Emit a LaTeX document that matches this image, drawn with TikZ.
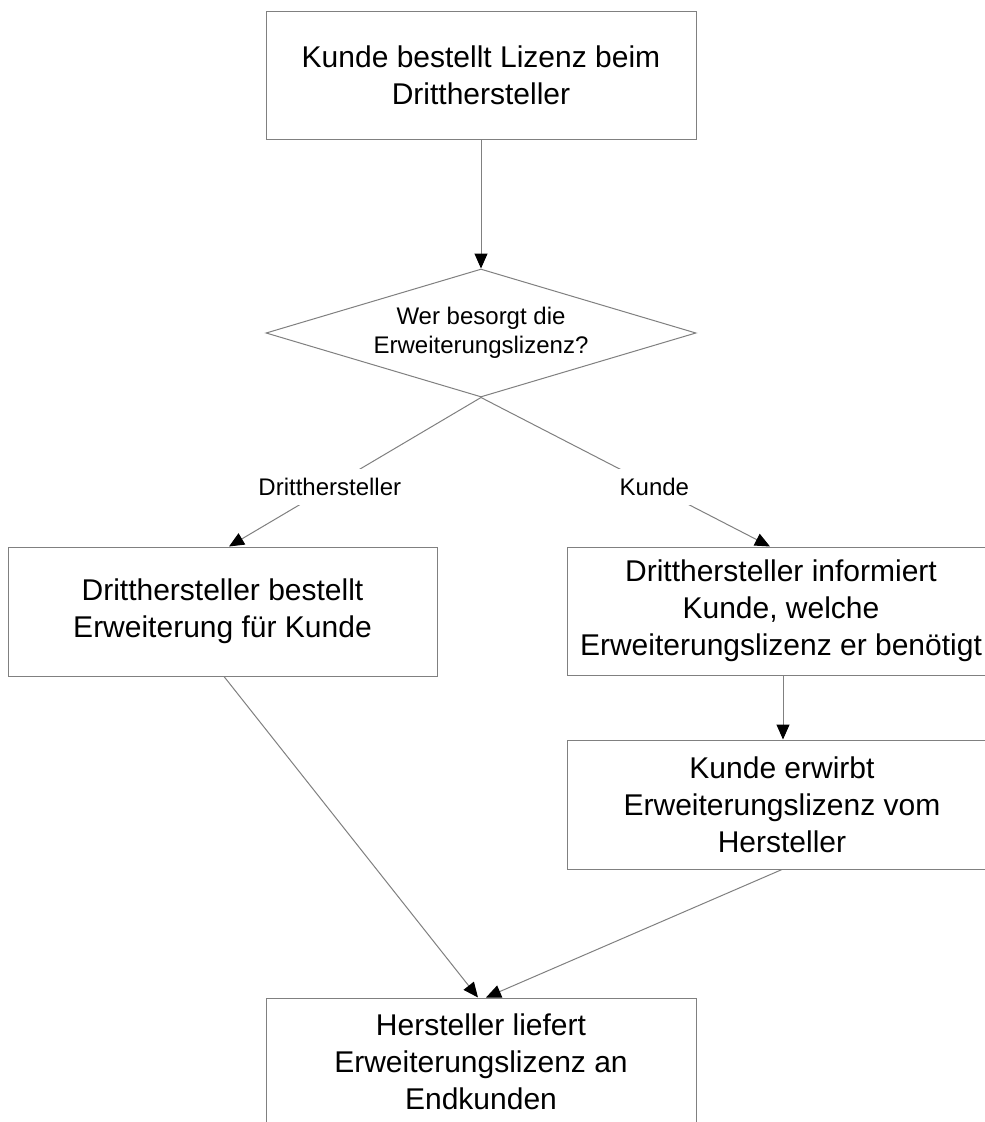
\documentclass[tikz,border=0pt]{standalone}
\usepackage{fontspec}
\setmainfont{Liberation Sans}
\usetikzlibrary{shapes.geometric,arrows.meta}
\definecolor{linegray}{RGB}{128,128,128}

\begin{document}
\begin{tikzpicture}[x=1pt,y=-1pt,
  line width=1pt,
  stepbox/.style={draw=linegray, rectangle, inner sep=0pt, align=center,
    minimum width=430, minimum height=128,
    font=\fontsize{30}{37}\selectfont},
  decision/.style={draw=linegray, diamond, shape aspect=3.36, inner sep=1pt,
    align=center, minimum width=430, minimum height=128,
    font=\fontsize{24}{29}\selectfont},
  branch/.style={fill=white, inner xsep=4pt, inner ysep=9pt,
    font=\fontsize{24}{29}\selectfont},
  flow/.style={draw=linegray, -{Triangle[length=15pt,width=13pt,black]}}]

\useasboundingbox (0,0) rectangle (985,1122);
\fill[white] (0,0) rectangle (985,1122);
\clip (0,0) rectangle (985,1122);

% process steps
\node[stepbox] (order) at (481,75)
  {Kunde bestellt Lizenz beim\\Dritthersteller};
\node[decision] (who) at (481,333)
  {Wer besorgt die\\Erweiterungslizenz?};
\node[stepbox, minimum width=429, minimum height=129] (vendor) at (222.5,611.5)
  {Dritthersteller bestellt\\Erweiterung für Kunde};
\node[stepbox, minimum width=428] (inform) at (781,611)
  {Dritthersteller informiert\\Kunde, welche\\Erweiterungslizenz er benötigt};
\node[stepbox, minimum height=129] (buy) at (782,804.5)
  {Kunde erwirbt\\Erweiterungslizenz vom\\Hersteller};
\node[stepbox] (deliver) at (481,1062)
  {Hersteller liefert\\Erweiterungslizenz an\\Endkunden};

% connectors
\draw[flow] (order.south) -- (who.north);
\draw[flow] (who.south) -- node[branch, pos=0.6] {Dritthersteller}
  ([xshift=6.5pt]vendor.north);
\draw[flow] (who.south) -- node[branch, pos=0.6] {Kunde}
  ([xshift=-11pt]inform.north);
\draw[flow] ([xshift=2pt]inform.south) -- ([xshift=1pt]buy.north);
\draw[flow] ([xshift=1.5pt]vendor.south) -- ([xshift=-3pt]deliver.north);
\draw[flow] (buy.south) -- ([xshift=5pt]deliver.north);
\end{tikzpicture}
\end{document}
